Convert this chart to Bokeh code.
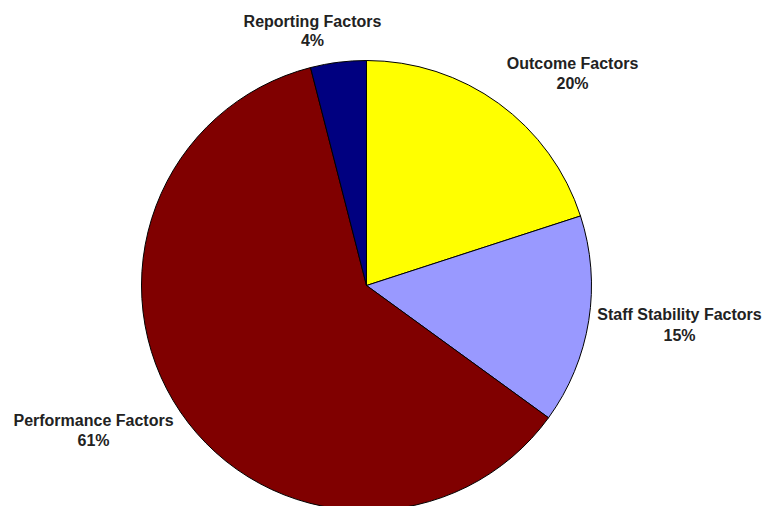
import math
from bokeh.plotting import figure
from bokeh.models import Range1d, ColumnDataSource
from bokeh.core.properties import value
from bokeh.embed import file_html
from bokeh.resources import INLINE

categories = ["Outcome Factors", "Staff Stability Factors", "Performance Factors", "Reporting Factors"]
values = [20, 15, 61, 4]
colors = ["#FFFF00", "#9999FF", "#800000", "#000080"]

W, H = 762, 506
p = figure(width=W, height=H, output_backend="svg", toolbar_location=None,
           x_range=Range1d(0, W), y_range=Range1d(0, H), min_border=0)
p.axis.visible = False
p.grid.visible = False
p.outline_line_color = None
p.background_fill_color = "white"

def sy(screen_y):
    return H - screen_y

def sx(screen_x):
    return screen_x

total = sum(values)
starts, ends = [], []
cum = 0
for v in values:
    starts.append(math.pi / 2 - 2 * math.pi * cum / total)
    cum += v
    ends.append(math.pi / 2 - 2 * math.pi * cum / total)

src = ColumnDataSource(dict(cat=categories, val=values, color=colors, start=starts, end=ends))
p.wedge(x=sx(366), y=sy(285), radius=225, start_angle="start", end_angle="end",
        direction="clock", fill_color="color", line_color="black", line_width=1, source=src)

# label positions (screen px): name line center, pct line center
label_pos = {
    "Outcome Factors": (572, 63, 83),
    "Staff Stability Factors": (679, 314, 335),
    "Performance Factors": (93, 420, 440),
    "Reporting Factors": (312, 21, 40),
}
lx, ly, lt = [], [], []
for c, v in zip(categories, values):
    x, y1, y2 = label_pos[c]
    lx += [sx(x), sx(x)]
    ly += [sy(y1), sy(y2)]
    lt += [c, f"{v}%"]
p.text(x=lx, y=ly, text=lt, text_align="center", text_baseline="middle",
       text_font=value("Liberation Sans"), text_font_style="bold",
       text_font_size="16px", text_color="#222222")

open("out.html", "w").write(file_html(p, INLINE))
